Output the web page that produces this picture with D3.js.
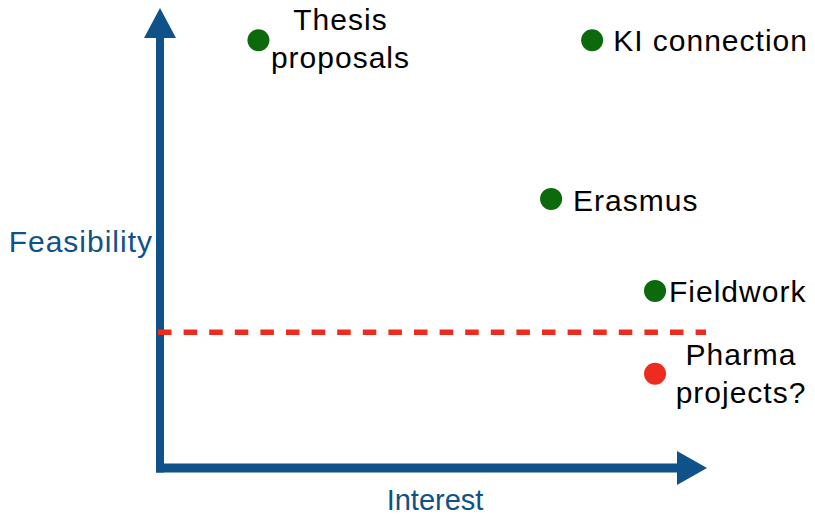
<!DOCTYPE html>
<html>
<head>
<meta charset="utf-8">
<script src="https://cdn.jsdelivr.net/npm/d3@7"></script>
<style>
  body { margin: 0; background: #fff; }
  text { font-family: "Liberation Sans", Arial, sans-serif; }
</style>
</head>
<body>
<div id="chart"></div>
<script>

///////////////////////////////////////////////////////////////////////////
////////////////////////////////// Data ///////////////////////////////////
///////////////////////////////////////////////////////////////////////////

var names = ["Thesis proposals", "KI connection", "Erasmus", "Fieldwork", "Pharma projects?"]
var interest = [1.8, 7.9, 7.15, 9.05, 9.05]
var feasibility = [9.3, 9.3, 5.85, 3.85, 2.05]
var threshold = 2.95
var xTitle = "Interest"
var yTitle = "Feasibility"

///////////////////////////////////////////////////////////////////////////
///////////////////////////////// Setup ///////////////////////////////////
///////////////////////////////////////////////////////////////////////////

var W = 815, H = 515
var blue = "#0f5189", green = "#0c6a0c", red = "#ee2b1f"

var x = d3.scaleLinear().domain([0, 10]).range([160, 707])
var y = d3.scaleLinear().domain([0, 10]).range([468, 8])

var svg = d3.select("#chart").append("svg")
  .attr("width", W)
  .attr("height", H)

// label placement (offsets from the point, px)
var labelCfg = {
  "Thesis proposals": { dx: 82, dy: -10, anchor: "middle", lines: ["Thesis", "proposals"] },
  "KI connection":    { dx: 21, dy: 11, anchor: "start", lines: ["KI connection"] },
  "Erasmus":          { dx: 22, dy: 12, anchor: "start", lines: ["Erasmus"] },
  "Fieldwork":        { dx: 14, dy: 11, anchor: "start", lines: ["Fieldwork"] },
  "Pharma projects?": { dx: 86, dy: -9, anchor: "middle", lines: ["Pharma", "projects?"] }
}

var data = names.map(function(d, i) {
  return { name: d, x: interest[i], y: feasibility[i], ok: feasibility[i] > threshold }
})

///////////////////////////////////////////////////////////////////////////
///////////////////////////////// Axes ////////////////////////////////////
///////////////////////////////////////////////////////////////////////////

var x0 = x(0), y0 = y(0), xEnd = x.range()[1], yEnd = y.range()[1]
var head = 30, halfHead = 16

var axes = svg.append("g")

axes.append("line")
  .attr("x1", x0).attr("x2", x0)
  .attr("y1", y0 + 4.5).attr("y2", yEnd + head)
  .attr("stroke", blue).attr("stroke-width", 8)

axes.append("line")
  .attr("x1", x0 - 4).attr("x2", xEnd - head)
  .attr("y1", y0).attr("y2", y0)
  .attr("stroke", blue).attr("stroke-width", 9)

axes.append("path")
  .attr("d", "M" + x0 + "," + yEnd + "L" + (x0 + halfHead) + "," + (yEnd + head) + "L" + (x0 - halfHead) + "," + (yEnd + head) + "Z")
  .attr("fill", blue)

axes.append("path")
  .attr("d", "M" + xEnd + "," + y0 + "L" + (xEnd - head) + "," + (y0 - halfHead - 1) + "L" + (xEnd - head) + "," + (y0 + halfHead + 1) + "Z")
  .attr("fill", blue)

svg.append("text")
  .attr("x", 153).attr("y", 252)
  .attr("text-anchor", "end")
  .attr("fill", blue)
  .style("font-size", "30px")
  .style("letter-spacing", "1px")
  .text(yTitle)

svg.append("text")
  .attr("x", 435).attr("y", 510)
  .attr("text-anchor", "middle")
  .attr("fill", blue)
  .style("font-size", "29px")
  .text(xTitle)

///////////////////////////////////////////////////////////////////////////
/////////////////////////////// Threshold /////////////////////////////////
///////////////////////////////////////////////////////////////////////////

svg.append("line")
  .attr("x1", x0 - 2).attr("x2", xEnd - 1)
  .attr("y1", y(threshold)).attr("y2", y(threshold))
  .attr("stroke", red)
  .attr("stroke-width", 5.5)
  .attr("stroke-dasharray", "13.5,12.1")

///////////////////////////////////////////////////////////////////////////
//////////////////////////////// Points ///////////////////////////////////
///////////////////////////////////////////////////////////////////////////

var pts = svg.selectAll(".pt").data(data).enter().append("g")
  .attr("class", "pt")
  .attr("transform", d => `translate(${x(d.x)},${y(d.y)})`)

pts.append("circle")
  .attr("r", 11)
  .attr("fill", d => d.ok ? green : red)

pts.append("text")
  .attr("x", d => labelCfg[d.name].dx)
  .attr("y", d => labelCfg[d.name].dy)
  .attr("text-anchor", d => labelCfg[d.name].anchor)
  .attr("fill", "#000")
  .style("font-size", "30px")
  .style("letter-spacing", "1px")
  .selectAll("tspan")
  .data(d => labelCfg[d.name].lines.map(function(l) { return { t: l, dx: labelCfg[d.name].dx } }))
  .enter().append("tspan")
    .attr("x", d => d.dx)
    .attr("dy", (d, i) => i ? 38 : 0)
    .text(d => d.t)

</script>
</body>
</html>
